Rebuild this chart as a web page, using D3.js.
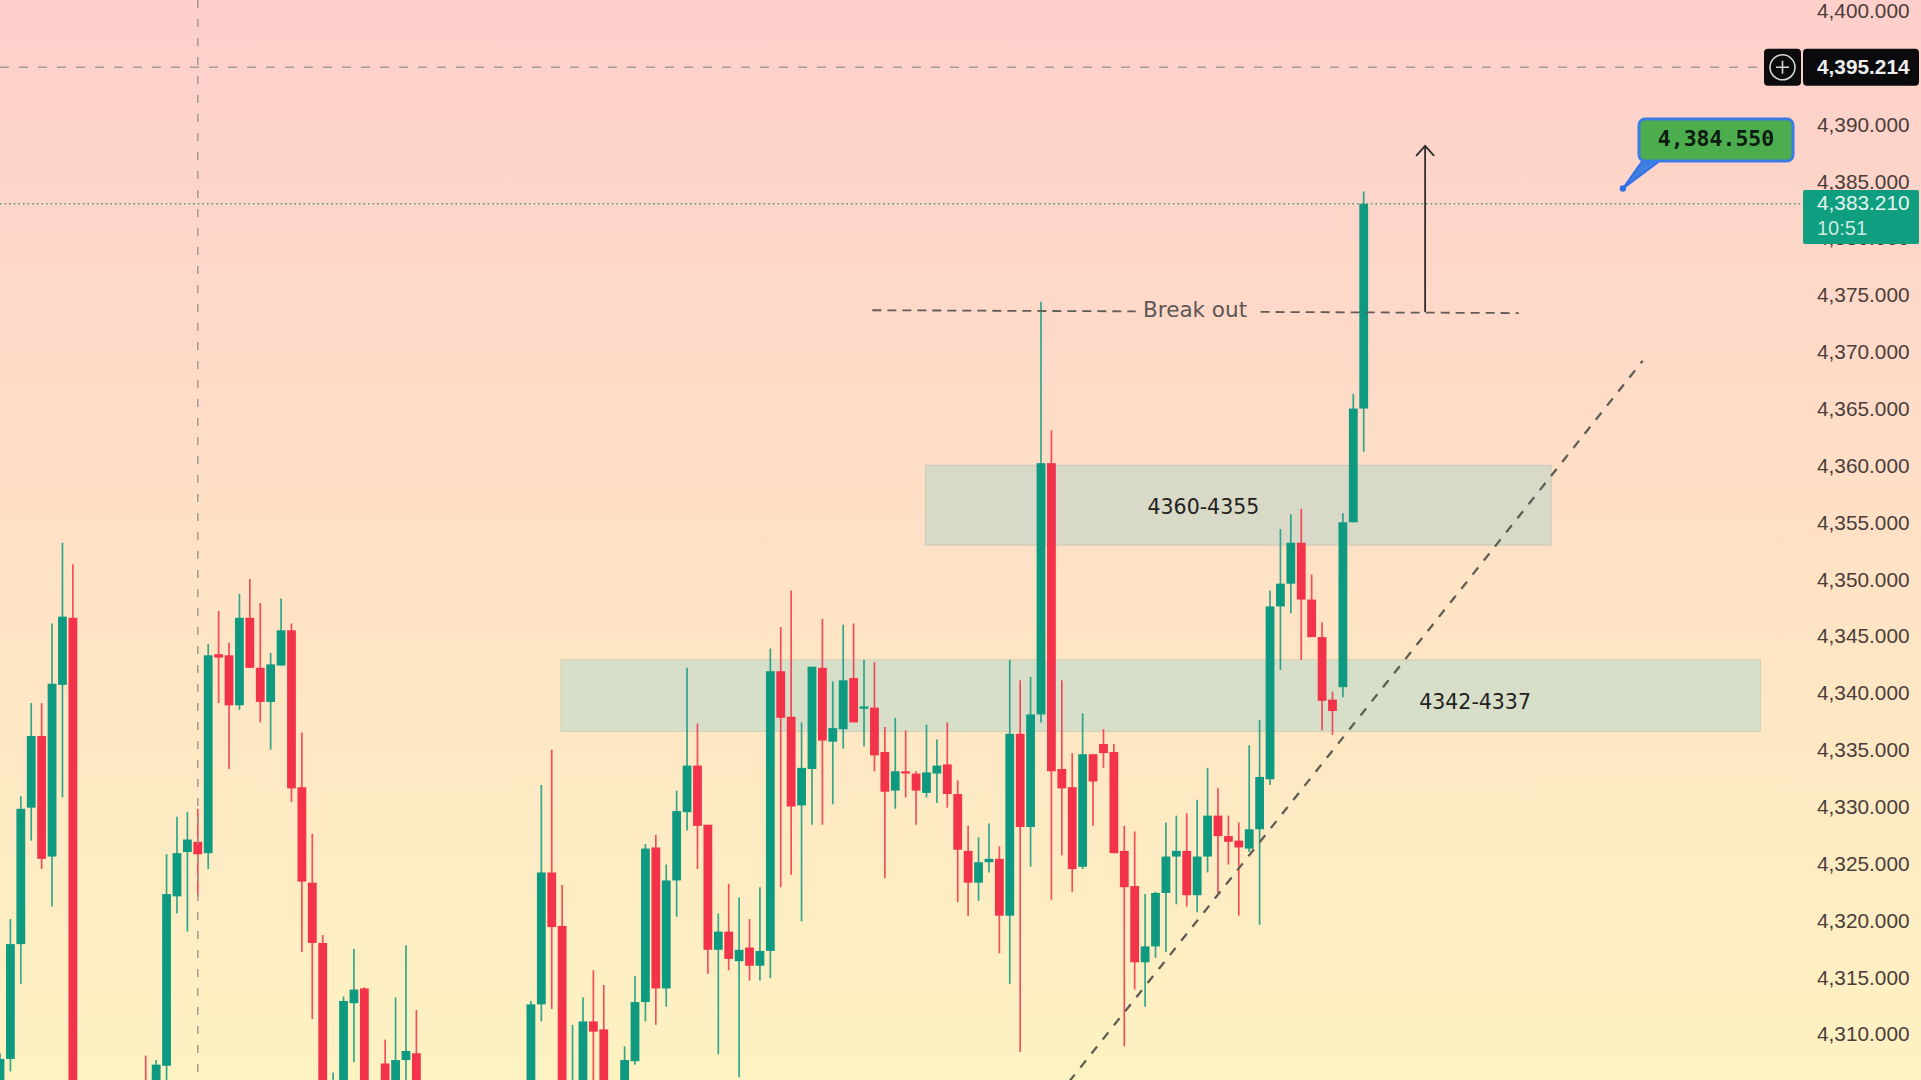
<!DOCTYPE html>
<html>
<head>
<meta charset="utf-8">
<title>XAU candles</title>
<script src="https://cdn.jsdelivr.net/npm/d3@7/dist/d3.min.js"></script>
<style>
  html, body { margin: 0; padding: 0; background: #fff; overflow: hidden; }
  svg { display: block; }
</style>
</head>
<body>
<script>
// Bar position on the time axis; gaps in the sequence are bars below the visible range.
const slots = [0,1,2,3,4,5,6,7,14,15,16,17,18,19,20,21,22,23,24,25,26,27,28,29,30,31,32,33,34,35,37,38,39,40,
  51,52,53,54,55,56,57,58,60,61,62,63,64,65,66,67,68,69,70,71,72,73,74,75,76,77,78,79,80,81,82,83,84,85,86,87,88,89,90,
  91,92,93,94,95,96,97,98,99,100,101,102,103,104,105,106,107,108,109,110,111,112,113,114,115,116,117,118,119,120,
  121,122,123,124,125,126,127,128,129,130,131];

const opens = [4300,4308.0,4318.1,4330.1,4336.4,4325.8,4340.9,4346.8,4303,4300,4307.4,4322.3,4326.2,4327.1,4326.1,4343.6,4343.5,4339.1,4346.8,4342.4,4339.4,4342.6,4345.7,4331.9,4323.5,4318.2,4300,4297,4312.9,4314.2,4307.6,4298,4307.9,4308.5,
  4300,4312.8,4324.4,4319.7,4300,4298,4311.3,4310.6,4300,4307.8,4313.0,4326.6,4314.2,4323.7,4329.7,4333.8,4328.6,4317.6,4319.2,4316.6,4317.8,4316.2,4317.5,4342.1,4338.1,4330.3,4333.5,4342.4,4335.9,4337.0,4341.5,4338.8,4338.9,4335.0,4331.6,4333.3,4333.1,4331.4,4333.1,
  4333.9,4331.3,4326.3,4323.5,4325.3,4325.6,4320.6,4336.6,4328.4,4338.3,4360.4,4333.5,4331.9,4324.9,4334.8,4335.7,4335.0,4326.3,4323.2,4316.5,4317.9,4322.6,4325.8,4326.3,4322.4,4325.8,4329.4,4327.6,4327.2,4326.5,
  4328.2,4332.6,4347.8,4349.8,4353.4,4348.4,4345.1,4339.6,4340.7,4355.2,4365.2];

const highs = [4308.5,4320.3,4331.1,4339.3,4339.3,4346.3,4353.4,4351.5,4308.3,4307.9,4326.0,4329.3,4329.7,4330.0,4344.5,4347.4,4344.6,4348.9,4350.2,4348.1,4343.7,4348.5,4346.3,4336.7,4327.8,4318.9,4306.8,4313.5,4317.7,4314.3,4309.7,4313.4,4318.0,4312.3,
  4313.1,4332.1,4335.2,4323.3,4311.0,4313.4,4315.8,4314.5,4309.1,4315.3,4326.9,4327.7,4325.1,4331.6,4342.4,4337.5,4328.6,4320.8,4323.4,4322.2,4320.3,4323.1,4344.1,4346.0,4349.2,4337.6,4342.5,4346.7,4341.2,4346.2,4346.3,4343.1,4342.9,4337.2,4338.0,4336.9,4333.3,4337.4,4336.1,
  4337.6,4332.5,4328.5,4327.5,4328.7,4326.7,4343.1,4341.3,4341.6,4374.6,4363.3,4341.3,4334.9,4338.4,4334.8,4337.0,4335.7,4328.5,4328.0,4322.5,4322.7,4328.8,4329.4,4329.6,4330.8,4333.6,4331.8,4329.4,4328.8,4335.6,
  4337.8,4349.2,4354.6,4355.9,4356.4,4350.6,4346.4,4340.3,4356.0,4366.5,4384.3];

const lows = [4297,4306.9,4314.6,4327.2,4324.7,4321.4,4331.0,4294,4295,4298,4303,4320.8,4319.2,4322.3,4324.7,4339.3,4333.5,4338.7,4342.4,4337.6,4335.2,4342.6,4330.6,4317.4,4311.5,4294,4298,4295,4307.7,4294,4296,4296,4302,4296,
  4298,4311.3,4312.4,4296,4298,4296,4298,4296,4298,4307.5,4311.3,4311.0,4312.6,4320.5,4328.1,4324.7,4315.5,4308.4,4315.8,4306.4,4314.9,4314.9,4315.1,4323.1,4324.2,4320.1,4328.6,4328.6,4330.4,4335.3,4337.6,4335.5,4333.3,4323.9,4330.0,4331.0,4328.6,4331.0,4330.5,
  4330.1,4321.8,4320.6,4321.9,4324.4,4317.3,4314.6,4308.6,4324.9,4337.6,4322.0,4325.9,4322.7,4324.7,4328.5,4333.6,4326.1,4309.1,4314.1,4312.6,4316.9,4317.4,4321.6,4321.4,4320.9,4324.4,4322.6,4325.1,4320.6,4326.2,
  4319.8,4332.1,4342.2,4347.2,4343.1,4345.1,4336.9,4336.5,4339.8,4355.2,4361.4];

const closes = [4308.0,4318.1,4330.0,4336.4,4325.6,4341.0,4346.9,4296,4298,4307.5,4322.5,4326.1,4327.3,4326.0,4343.5,4343.3,4339.1,4346.8,4342.4,4339.4,4342.7,4345.7,4331.8,4323.6,4318.2,4296,4303,4313.1,4314.1,4296,4298,4307.9,4308.7,4298,
  4312.8,4324.4,4319.6,4298,4304,4311.3,4310.4,4298,4307.9,4313.0,4326.5,4314.2,4323.7,4329.8,4333.8,4328.5,4317.6,4319.2,4316.8,4317.6,4316.2,4317.5,4342.1,4338.0,4330.2,4333.6,4342.5,4336.0,4337.1,4341.3,4337.6,4339.0,4334.7,4331.5,4333.3,4333.1,4331.6,4333.2,4333.8,
  4331.3,4326.4,4323.5,4325.3,4325.6,4320.6,4336.6,4328.4,4338.3,4360.4,4333.3,4331.8,4324.7,4334.8,4332.4,4334.9,4326.1,4323.1,4316.5,4317.9,4322.6,4325.8,4326.3,4322.4,4325.8,4329.4,4327.6,4327.1,4326.6,4328.2,
  4332.8,4347.8,4349.8,4353.4,4348.4,4345.1,4339.5,4338.6,4355.2,4365.2,4383.21];

const priceTicks = [4400,4395,4390,4385,4380,4375,4370,4365,4360,4355,4350,4345,4340,4335,4330,4325,4320,4315,4310];

const crosshairPrice = 4395.214;
const crosshairSlot = 19;
const lastPrice = 4383.21;
const lastPriceCountdown = "10:51";
const calloutPrice = 4384.55;
const calloutSlot = 155.9;

// Supply and demand bands: [first slot, last slot, top price, bottom price, caption, caption slot, caption price]
const upperZone = [88.9, 149.0, 4360.2, 4353.2, "4360-4355", 115.6, 4356.6];
const lowerZone = [53.9, 169.1, 4343.1, 4336.8, "4342-4337", 141.7, 4339.4];

// Drawn lines as [slot, price] pairs
const breakoutLeft = [[83.8, 4373.85], [109.1, 4373.75]];
const breakoutRight = [[121.1, 4373.7], [145.9, 4373.6]];
const breakoutLabelAt = [114.8, 4373.9];
const targetArrow = [[136.9, 4373.7], [136.9, 4388.3]];
const trendLine = [[102.7, 4306.0], [157.8, 4369.4]];

const width = 1921, height = 1080;
const UP = "#0e9a80", DOWN = "#f2334a";

const x = d3.scaleLinear().domain([0, 100]).range([0, 1041]);
const y = d3.scaleLinear().domain([4400, 4310]).range([12.9, 1036.2]);

const fmt = d3.format(",.3f");

const svg = d3.select("body").append("svg")
  .attr("width", width).attr("height", height)
  .attr("viewBox", `0 0 ${width} ${height}`);

// Vertical backdrop wash
const defs = svg.append("defs");
const wash = defs.append("linearGradient").attr("id", "wash")
  .attr("x1", 0).attr("y1", 0).attr("x2", 0).attr("y2", 1);
wash.selectAll("stop")
  .data([[0, "#fecfcb"], [0.15, "#fed4c9"], [0.3, "#fed9c8"], [0.6, "#fee5c4"], [1, "#fdf2c2"]])
  .join("stop")
  .attr("offset", d => d[0])
  .attr("stop-color", d => d[1]);

svg.append("rect").attr("width", width).attr("height", height).attr("fill", "url(#wash)");

// Price zones sit under the candles
function drawZone(zone, fill, stroke) {
  const [a, b, top, bottom] = zone;
  svg.append("rect")
    .attr("x", x(a)).attr("y", y(top))
    .attr("width", x(b) - x(a)).attr("height", y(bottom) - y(top))
    .attr("fill", fill).attr("stroke", stroke).attr("stroke-width", 1.2);
}
drawZone(upperZone, "#d9d9c8", "#cfcbb8");
drawZone(lowerZone, "#d8dfc8", "#d2d2b8");

// Candles
const bars = slots.map((s, i) => ({ s, o: opens[i], h: highs[i], l: lows[i], c: closes[i] }));
const candle = svg.append("g").selectAll("g").data(bars).join("g")
  .attr("fill", d => d.c >= d.o ? UP : DOWN)
  .attr("stroke", d => d.c >= d.o ? UP : DOWN);
candle.append("line")
  .attr("x1", d => x(d.s)).attr("x2", d => x(d.s))
  .attr("y1", d => y(d.h)).attr("y2", d => y(d.l))
  .attr("stroke-width", 1.7).attr("stroke-opacity", 0.85);
candle.append("rect")
  .attr("x", d => x(d.s) - 4.4).attr("width", 8.8)
  .attr("y", d => y(Math.max(d.o, d.c)))
  .attr("height", d => Math.max(2, Math.abs(y(d.o) - y(d.c))))
  .attr("stroke", "none");

// Zone captions
svg.append("g").selectAll("text").data([upperZone, lowerZone]).join("text")
  .attr("x", d => x(d[5])).attr("y", d => y(d[6]))
  .attr("dy", "0.36em").attr("text-anchor", "middle")
  .attr("font-family", "DejaVu Sans").attr("font-size", 20.5)
  .attr("fill", "#222")
  .text(d => d[4]);

const pathFrom = d3.line().x(d => x(d[0])).y(d => y(d[1]));

// Crosshair
svg.append("line")
  .attr("x1", x(crosshairSlot)).attr("x2", x(crosshairSlot))
  .attr("y1", 0).attr("y2", height)
  .attr("stroke", "#9c968c").attr("stroke-width", 1.4).attr("stroke-dasharray", "8 11");
svg.append("line")
  .attr("x1", 0).attr("x2", 1760)
  .attr("y1", y(crosshairPrice)).attr("y2", y(crosshairPrice))
  .attr("stroke", "#a59c94").attr("stroke-width", 1.4).attr("stroke-dasharray", "9 10");

// Last price guide
svg.append("line")
  .attr("x1", 0).attr("x2", 1803)
  .attr("y1", y(lastPrice)).attr("y2", y(lastPrice))
  .attr("stroke", "#4f9a86").attr("stroke-width", 1.6).attr("stroke-dasharray", "1.6 3");

// Break out level, interrupted by its caption
[breakoutLeft, breakoutRight].forEach(seg => {
  svg.append("path").attr("d", pathFrom(seg))
    .attr("fill", "none").attr("stroke", "#615c58").attr("stroke-width", 1.8)
    .attr("stroke-dasharray", "9 6");
});
svg.append("text")
  .attr("x", x(breakoutLabelAt[0])).attr("y", y(breakoutLabelAt[1]))
  .attr("dy", "0.36em").attr("text-anchor", "middle")
  .attr("font-family", "DejaVu Sans").attr("font-size", 21.5)
  .attr("fill", "#5c5654")
  .text("Break out");

// Upside target arrow
svg.append("path").attr("d", pathFrom(targetArrow))
  .attr("fill", "none").attr("stroke", "#2b2b2b").attr("stroke-width", 1.8);
const tipX = x(targetArrow[1][0]), tipY = y(targetArrow[1][1]);
svg.append("path")
  .attr("d", d3.line()([[tipX - 9, tipY + 10], [tipX, tipY], [tipX + 9, tipY + 10]]))
  .attr("fill", "none").attr("stroke", "#2b2b2b").attr("stroke-width", 1.8);

// Rising trend line
svg.append("path").attr("d", pathFrom(trendLine))
  .attr("fill", "none").attr("stroke", "#5e5e54").attr("stroke-width", 2.3)
  .attr("stroke-dasharray", "9 9");

// Price axis
const axis = svg.append("g")
  .attr("transform", "translate(1817,-2)")
  .call(d3.axisRight(y).tickValues(priceTicks).tickSize(0).tickPadding(0).tickFormat(fmt));
axis.select(".domain").remove();
axis.selectAll("text")
  .attr("font-family", "Liberation Sans").attr("font-size", 20.8)
  .attr("fill", "#4b3d3a");

// Crosshair price tag
const tagY = y(crosshairPrice);
svg.append("rect").attr("x", 1764).attr("y", tagY - 18.5).attr("width", 37).attr("height", 37)
  .attr("rx", 4).attr("fill", "#0b0b0d");
svg.append("rect").attr("x", 1803).attr("y", tagY - 18.5).attr("width", 116).attr("height", 37)
  .attr("rx", 4).attr("fill", "#0b0b0d");
svg.append("circle").attr("cx", 1782.5).attr("cy", tagY).attr("r", 12.5)
  .attr("fill", "none").attr("stroke", "#d8d8d8").attr("stroke-width", 1.6);
svg.append("path")
  .attr("d", d3.line()([[1776, tagY], [1789, tagY]]) + d3.line()([[1782.5, tagY - 6.5], [1782.5, tagY + 6.5]]))
  .attr("stroke", "#d8d8d8").attr("stroke-width", 1.6).attr("fill", "none");
svg.append("text").attr("x", 1817).attr("y", tagY - 1).attr("dy", "0.36em")
  .attr("font-family", "Liberation Sans").attr("font-size", 20.8).attr("font-weight", 700)
  .attr("fill", "#eeeeee").text(fmt(crosshairPrice));

// Last price tag
const lastY = y(lastPrice);
svg.append("rect").attr("x", 1803).attr("y", 190).attr("width", 116).attr("height", 54)
  .attr("rx", 2).attr("fill", "#0f9f80");
svg.append("text").attr("x", 1817).attr("y", lastY - 1).attr("dy", "0.36em")
  .attr("font-family", "Liberation Sans").attr("font-size", 20.8)
  .attr("fill", "#e6f5ef").text(fmt(lastPrice));
svg.append("text").attr("x", 1817).attr("y", lastY + 24).attr("dy", "0.36em")
  .attr("font-family", "Liberation Sans").attr("font-size", 20)
  .attr("fill", "#cfeae0").text(lastPriceCountdown);

// Price note callout, its pointer resting on the noted price
const tipPx = [x(calloutSlot), y(calloutPrice)];
svg.append("path")
  .attr("d", d3.line()([[1643, 160], tipPx, [1661, 160]]) + "Z")
  .attr("fill", "#3f7fe0").attr("stroke", "#2f6fe8").attr("stroke-width", 2);
svg.append("circle").attr("cx", tipPx[0]).attr("cy", tipPx[1]).attr("r", 3.2).attr("fill", "#2f6fe8");
svg.append("rect").attr("x", 1639).attr("y", 119).attr("width", 154).attr("height", 42)
  .attr("rx", 6).attr("fill", "#4cad4f").attr("stroke", "#3a7ce6").attr("stroke-width", 3);
svg.append("text").attr("x", 1716).attr("y", 138).attr("dy", "0.36em").attr("text-anchor", "middle")
  .attr("font-family", "DejaVu Sans Mono").attr("font-weight", 700).attr("font-size", 21.5)
  .attr("fill", "#0d1a10").text(fmt(calloutPrice));
</script>
</body>
</html>
